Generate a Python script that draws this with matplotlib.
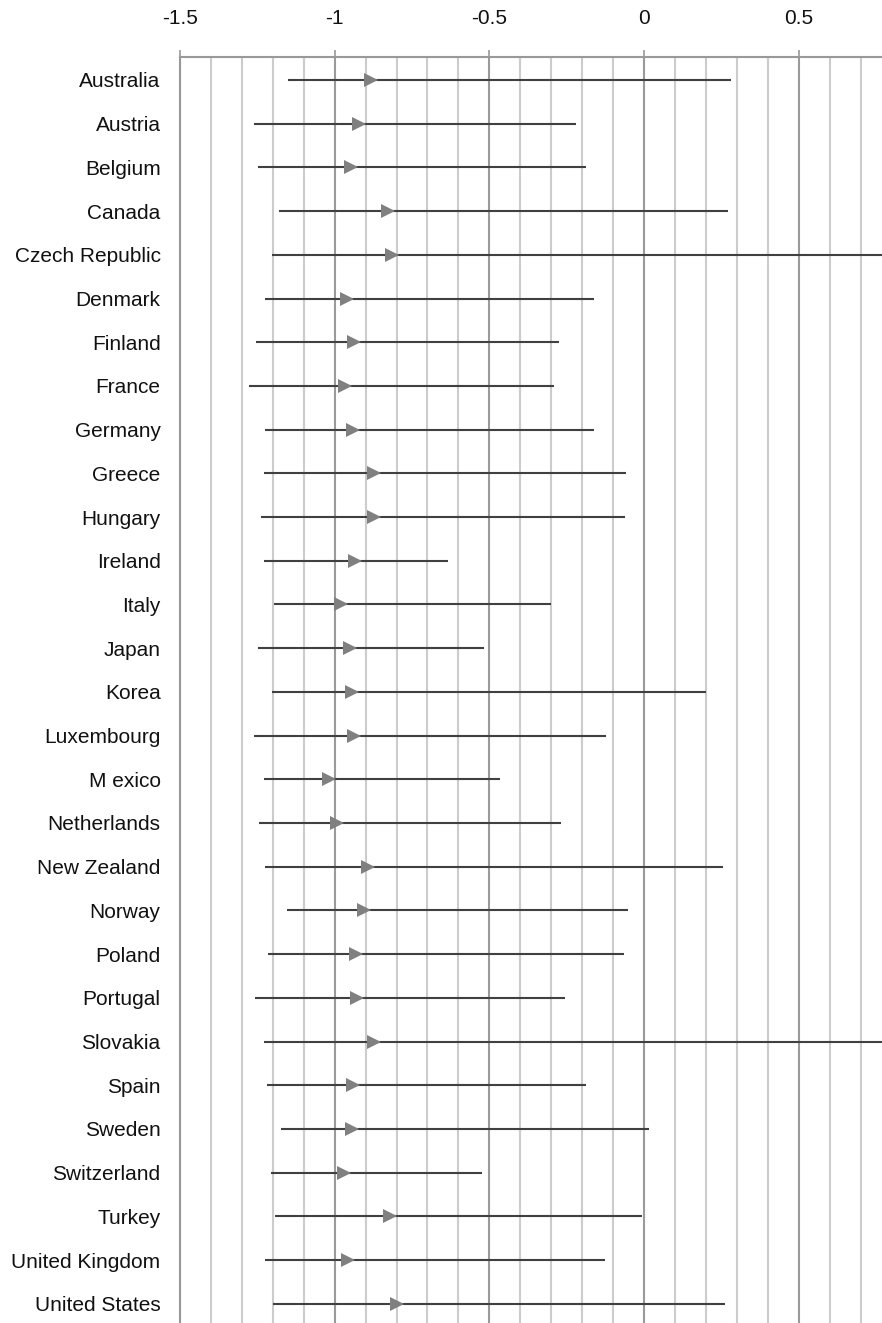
import numpy as np
import matplotlib
matplotlib.use('Agg')
import matplotlib.pyplot as plt
from matplotlib.ticker import MultipleLocator, FuncFormatter


# -----------------------------------------------------------------------------
# data
# -----------------------------------------------------------------------------
countries = ['Australia', 'Austria', 'Belgium', 'Canada', 'Czech Republic',
             'Denmark', 'Finland', 'France', 'Germany', 'Greece', 'Hungary',
             'Ireland', 'Italy', 'Japan', 'Korea', 'Luxembourg', 'M exico',
             'Netherlands', 'New Zealand', 'Norway', 'Poland', 'Portugal',
             'Slovakia', 'Spain', 'Sweden', 'Switzerland', 'Turkey',
             'United Kingdom', 'United States']

low = [-1.150, -1.262, -1.248, -1.179, -1.201, -1.225, -1.254, -1.276,
       -1.225, -1.228, -1.239, -1.228, -1.196, -1.248, -1.201, -1.262,
       -1.228, -1.243, -1.225, -1.155, -1.216, -1.257, -1.228, -1.219,
       -1.175, -1.207, -1.193, -1.225, -1.198]

mid = [-0.881, -0.920, -0.946, -0.827, -0.816, -0.961, -0.939, -0.965,
       -0.940, -0.872, -0.874, -0.934, -0.979, -0.951, -0.944, -0.937,
       -1.018, -0.994, -0.891, -0.906, -0.930, -0.928, -0.872, -0.942,
       -0.944, -0.971, -0.821, -0.958, -0.800]

high = [0.280, -0.221, -0.187, 0.272, 0.900, -0.163, -0.274, -0.291,
        -0.160, -0.057, -0.060, -0.633, -0.301, -0.518, 0.201, -0.122,
        -0.465, -0.268, 0.257, -0.051, -0.065, -0.255, 0.900, -0.188,
        0.016, -0.524, -0.008, -0.127, 0.261]


# -----------------------------------------------------------------------------
# matplotlib options
# -----------------------------------------------------------------------------
plt.rcParams['font.family'] = ['Liberation Sans', 'DejaVu Sans']
plt.rcParams['axes.unicode_minus'] = False


# -----------------------------------------------------------------------------
# figure
# -----------------------------------------------------------------------------
W, H = 882, 1323
fig = plt.figure(figsize=(W / 100, H / 100), dpi=100)
ax = fig.add_axes([180 / W, 0, (W - 180) / W, (H - 57) / H])

y = np.arange(len(countries))

# ranges and central estimates
ax.hlines(y, low, high, color='#404040', linewidth=1.5, capstyle='butt',
          zorder=3)
ax.plot(mid, y, linestyle='none', marker='>', markersize=10.5,
        color='#808080', markeredgewidth=0, zorder=4)

# axes
ax.set_xlim(-1.5, (W - 644) / 309.3)
ax.set_ylim(28.44, -0.526)
ax.set_yticks(y)
ax.set_yticklabels(countries, fontsize=15, color='#111111')
ax.tick_params(axis='y', length=0, pad=14)

ax.xaxis.set_major_locator(MultipleLocator(0.5))
ax.xaxis.set_minor_locator(MultipleLocator(0.1))
ax.xaxis.set_major_formatter(FuncFormatter(lambda v, p: f'{v:g}'))
ax.xaxis.tick_top()
ax.tick_params(axis='x', which='major', direction='out', length=5, width=1.2,
               color='#999999', labelsize=15, labelcolor='#111111', pad=16)
ax.tick_params(axis='x', which='minor', length=0)

ax.set_axisbelow(True)
ax.grid(axis='x', which='minor', color='#cccccc', linewidth=1.5)
ax.grid(axis='x', which='major', color='#9a9a9a', linewidth=1.5)

for side in ['right', 'bottom']:
    ax.spines[side].set_visible(False)
for side in ['top', 'left']:
    ax.spines[side].set_color('#999999')
    ax.spines[side].set_linewidth(1.5)

fig.savefig('out.png', dpi=100)
